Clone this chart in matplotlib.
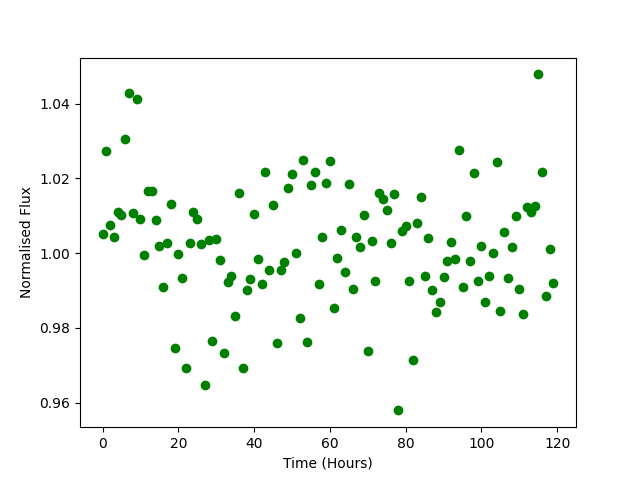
import numpy as np
import matplotlib
matplotlib.use("Agg")
import matplotlib.pyplot as plt

# hourly samples
time_hours = np.arange(120)
flux = [
    1.0050, 1.0273, 1.0075, 1.0044, 1.0111, 1.0103, 1.0306, 1.0429, 1.0108, 1.0413,
    1.0092, 0.9996, 1.0166, 1.0166, 1.0089, 1.0020, 0.9910, 1.0027, 1.0132, 0.9747,
    0.9998, 0.9934, 0.9693, 1.0027, 1.0111, 1.0092, 1.0025, 0.9648, 1.0036, 0.9766,
    1.0038, 0.9982, 0.9733, 0.9923, 0.9938, 0.9832, 1.0161, 0.9693, 0.9900, 0.9931,
    1.0105, 0.9984, 0.9916, 1.0218, 0.9955, 1.0129, 0.9760, 0.9954, 0.9977, 1.0173,
    1.0212, 1.0000, 0.9827, 1.0250, 0.9763, 1.0182, 1.0218, 0.9916, 1.0043, 1.0188,
    1.0245, 0.9854, 0.9988, 1.0063, 0.9950, 1.0186, 0.9904, 1.0043, 1.0015, 1.0103,
    0.9738, 1.0031, 0.9926, 1.0162, 1.0145, 1.0116, 1.0028, 1.0158, 0.9579, 1.0059,
    1.0073, 0.9924, 0.9715, 1.0081, 1.0151, 0.9939, 1.0041, 0.9900, 0.9841, 0.9870,
    0.9936, 0.9980, 1.0030, 0.9984, 1.0277, 0.9910, 1.0098, 0.9980, 1.0215, 0.9924,
    1.0020, 0.9868, 0.9939, 1.0001, 1.0244, 0.9846, 1.0055, 0.9934, 1.0017, 1.0098,
    0.9904, 0.9838, 1.0122, 1.0109, 1.0126, 1.0478, 1.0218, 0.9884, 1.0011, 0.9921,
]

plt.figure(figsize=(6.4, 4.8), dpi=100)
plt.plot(time_hours, flux, 'go')
plt.xlabel("Time (Hours)")
plt.ylabel("Normalised Flux")
plt.savefig("out.png")
